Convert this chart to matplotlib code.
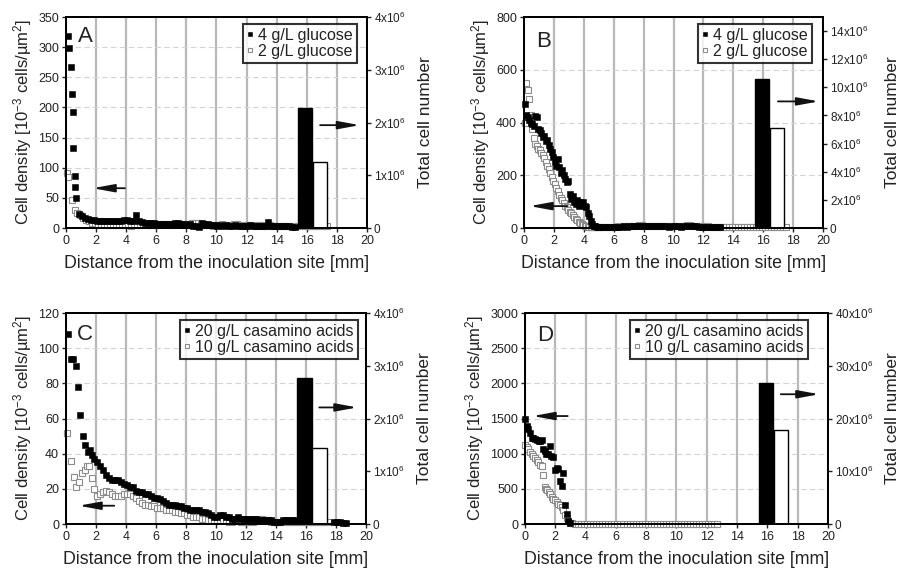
import numpy as np
import matplotlib
matplotlib.use("Agg")
import matplotlib.pyplot as plt
from matplotlib.ticker import FixedLocator

plt.rcParams["font.family"] = ["Liberation Sans", "DejaVu Sans"]
plt.rcParams["mathtext.fontset"] = "custom"
plt.rcParams["mathtext.rm"] = "Liberation Sans"
plt.rcParams["mathtext.it"] = "Liberation Sans:italic"

# ---------------- panel A (glucose, sample 1) ----------------
a_black_head_x = [0.15, 0.21, 0.34, 0.38, 0.45, 0.49, 0.58, 0.62, 0.68]
a_black_head_y = [319, 299, 267, 223, 193, 133, 87, 68, 49]
a_black_tail_y = [24, 20, 17, 15, 14, 13, 12, 12, 11, 12, 11, 12, 12, 11, 12, 13, 13, 12, 12, 22,
                  11, 10, 9, 9, 8, 8, 7, 7, 7, 6, 7, 6, 8, 8, 7, 6, 5, 6, 4, 3,
                  2, 8, 7, 6, 5, 5, 4, 5, 4, 5, 4, 4, 5, 4, 4, 3, 4, 5, 4, 4,
                  3, 4, 4, 10, 4, 3, 3, 4, 3, 3, 3, 2, 2]
a_white_head_x = [0.05, 0.15, 0.40, 0.60]
a_white_head_y = [92, 85, 47, 30]
a_white_tail_y = [25, 21, 17, 14, 11, 9, 8, 7, 6, 6, 5, 5, 5, 5, 5, 5, 5, 5, 4, 5,
                  5, 5, 6, 5, 5, 6, 5, 5, 6, 6, 6, 5, 6, 6, 6, 7, 6, 7, 8, 9,
                  8, 6, 5, 5, 5, 4, 5, 5, 6, 5, 5, 5, 6, 6, 5, 5, 4, 5, 5, 4,
                  5, 5, 4, 4, 5, 4, 4, 3, 4, 4, 3, 4, 3, 3, 3, 3, 3, 3, 3, 3,
                  3, 3, 3, 3]
a_bars = [2.27e6, 1.25e6]

# ---------------- panel B (glucose, sample 2) ----------------
b_black_head_y = [470, 430, 420, 410, 400, 395, 388, 425, 420, 375,
                  370, 360, 345, 350, 330, 335, 315, 300, 290, 270,
                  250, 235, 260, 230, 210, 220, 200, 185, 175, 180,
                  130, 110, 120, 100, 90, 105, 85, 100, 95, 100,
                  85, 80, 55, 45, 25, 15, 8, 6, 5, 4]
b_black_tail_y = [4, 3, 3, 4, 5, 4, 4, 5, 6, 5, 6, 7, 8, 7, 6, 7, 8, 9, 8, 7,
                  6, 7, 6, 5, 6, 7, 6, 5, 6, 7, 8, 7, 6, 5, 4, 5, 4, 3, 3, 4, 3]
b_white_head_y = [400, 548, 525, 490, 430, 375, 340, 320, 310, 300,
                  295, 285, 275, 265, 250, 235, 225, 210, 195, 180,
                  165, 150, 140, 125, 115, 105, 95, 85, 78, 70,
                  62, 55, 48, 42, 36, 30, 24, 18, 14, 10,
                  8, 6, 5, 4, 4, 3, 3, 3, 3, 3]
b_white_tail_y = [3, 3, 4, 4, 5, 5, 6, 6, 7, 7, 8, 8, 9, 10, 10, 9, 9, 8, 8, 7,
                  7, 6, 6, 7, 7, 8, 8, 9, 9, 10, 10, 9, 8, 8, 7, 6, 6, 5, 5, 4,
                  4, 4, 5, 5, 4, 4, 3, 3, 3, 3, 3, 3, 2, 2, 2, 2, 2, 2, 2, 2,
                  2, 2, 2]
b_bars = [10.6e6, 7.1e6]

# ---------------- panel C (casamino acids, sample 1) ----------------
c_black_head_x = [0.15, 0.32, 0.47, 0.64, 0.81, 0.94, 1.13, 1.26, 1.47, 1.58, 1.75]
c_black_head_y = [108, 94, 94, 90, 78, 62, 50, 45, 41, 42, 39]
c_black_tail_y = [37, 35, 33, 31, 28, 26, 25, 25, 25, 24,
                  23, 22, 21, 21, 19, 18, 18, 17, 17, 16,
                  15, 15, 14, 13, 12, 11, 11, 11, 10, 10,
                  9, 9, 8, 8, 8, 8, 7, 7, 6, 5,
                  4, 4, 5, 5, 4, 4, 3, 3, 4, 3,
                  3, 3, 3, 3, 3, 2, 2, 2, 2, 2,
                  1, 1, 1, 2, 2, 2, 2, 2]
c_black_far_x = [17.9, 18.1, 18.3, 18.5, 18.7]
c_black_far_y = [1, 1, 1, 0.5, 0.5]
c_white_head_x = [0.04, 0.32, 0.51, 0.68, 0.85, 1.07, 1.26, 1.40, 1.54, 1.71, 1.86]
c_white_head_y = [52, 36, 27, 21, 24, 29, 31, 33, 33, 26, 20]
c_white_tail_y = [16, 17, 18, 19, 18, 17, 16, 16, 16, 17, 17, 17, 16, 15, 13, 12, 11, 11, 10, 10,
                  9, 9, 9, 8, 8, 8, 7, 7, 6, 6, 5, 5, 4, 4, 4, 3, 3, 2, 2, 2,
                  2, 2, 2, 2, 1, 1, 2, 2, 1, 1, 1, 1, 1, 2, 3, 3, 2, 2, 1, 1,
                  1, 1, 1, 1, 1, 1, 1, 1, 1, 1, 1, 1, 1, 1, 1, 1, 1, 1]
c_bars = [2.76e6, 1.44e6]

# ---------------- panel D (casamino acids, sample 2) ----------------
d_black_x = [0.0, 0.1, 0.15, 0.2, 0.32, 0.43, 0.55, 0.65, 0.8, 0.9, 1.0, 1.1, 1.2, 1.32, 1.4,
             1.54, 1.65, 1.72, 1.83, 1.98, 2.09, 2.2, 2.3, 2.42, 2.53, 2.64, 2.75, 2.86, 2.97]
d_black_y = [1500, 1395, 1370, 1347, 1290, 1230, 1220, 1205, 1190, 1185, 1175, 1190, 1060, 1040, 1000,
             990, 1105, 960, 950, 775, 790, 780, 610, 535, 725, 275, 140, 40, 10]
d_white_head_x = [0.0, 0.1, 0.2, 0.33, 0.45, 0.55, 0.66, 0.77, 0.88, 1.0, 1.1, 1.2, 1.32, 1.4, 1.47,
                  1.56, 1.65, 1.76, 1.87, 1.98, 2.09, 2.2, 2.3, 2.42, 2.53, 2.64, 2.75, 2.86, 2.97]
d_white_head_y = [1130, 1090, 1070, 1030, 1000, 960, 940, 915, 880, 845, 820, 700, 530, 500, 480,
                  450, 420, 390, 360, 340, 320, 290, 270, 240, 200, 130, 80, 40, 15]
d_white_tail_y = [8, 5, 4, 3, 3, 2, 2, 3, 2, 2, 2, 3, 2, 2, 2, 2, 3, 2, 2, 2,
                  2, 2, 3, 2, 2, 2, 2, 2, 3, 2, 2, 2, 2, 2, 2, 3, 2, 2, 2, 2,
                  2, 2, 2, 2, 2, 2, 2, 2, 2]
d_bars = [26.8e6, 17.8e6]

bar_x = [15.9, 16.9]
TAIL_STEP = 0.2
INK = "#222222"
ARROW = "-|>,head_length=1.3,head_width=0.24"

panels = [
    dict(letter="A", pos=[0.0734, 0.6007, 0.3348, 0.3695],
         ylim=350, yticks=[0, 50, 100, 150, 200, 250, 300, 350],
         r_lim=4e6, r_ticks=[0, 1e6, 2e6, 3e6, 4e6], r_lab=["0", "1x10$^6$", "2x10$^6$", "3x10$^6$", "4x10$^6$"],
         black=(a_black_head_x, a_black_head_y, 0.85, a_black_tail_y),
         white=(a_white_head_x, a_white_head_y, 0.75, a_white_tail_y),
         extra=None, bars=a_bars,
         labels=["4 g/L glucose", "2 g/L glucose"], leg=(0.967, 0.967),
         larrow=((1.6, 66), (4.1, 66)), rarrow=((19.7, 1.95e6), (16.7, 1.95e6)),
         letter_xy=(0.8, 318), rlab_x=1.168),
    dict(letter="B", pos=[0.5829, 0.6007, 0.3326, 0.3695],
         ylim=800, yticks=[0, 200, 400, 600, 800],
         r_lim=15e6, r_ticks=[0, 2e6, 4e6, 6e6, 8e6, 10e6, 12e6, 14e6],
         r_lab=["0", "2x10$^6$", "4x10$^6$", "6x10$^6$", "8x10$^6$", "10x10$^6$", "12x10$^6$", "14x10$^6$"],
         black=(list(np.round(0.05 + 0.1 * np.arange(len(b_black_head_y)), 2)), b_black_head_y, 5.1, b_black_tail_y),
         white=(list(np.round(0.05 + 0.1 * np.arange(len(b_white_head_y)), 2)), b_white_head_y, 5.1, b_white_tail_y),
         extra=None, bars=b_bars,
         labels=["4 g/L glucose", "2 g/L glucose"], leg=(0.963, 0.967),
         larrow=((0.2, 83), (3.1, 83)), rarrow=((19.9, 9.0e6), (16.8, 9.0e6)),
         letter_xy=(0.8, 708), rlab_x=1.207),
    dict(letter="C", pos=[0.0734, 0.0823, 0.3337, 0.3695],
         ylim=120, yticks=[0, 20, 40, 60, 80, 100, 120],
         r_lim=4e6, r_ticks=[0, 1e6, 2e6, 3e6, 4e6], r_lab=["0", "1x10$^6$", "2x10$^6$", "3x10$^6$", "4x10$^6$"],
         black=(c_black_head_x, c_black_head_y, 1.9, c_black_tail_y),
         white=(c_white_head_x, c_white_head_y, 2.05, c_white_tail_y),
         extra=(c_black_far_x, c_black_far_y), bars=c_bars,
         labels=["20 g/L casamino acids", "10 g/L casamino acids"], leg=(0.973, 0.967),
         larrow=((0.67, 10.4), (3.4, 10.4)), rarrow=((19.6, 2.21e6), (16.7, 2.21e6)),
         letter_xy=(0.75, 108), rlab_x=1.17),
    dict(letter="D", pos=[0.584, 0.0823, 0.337, 0.3695],
         ylim=3000, yticks=[0, 500, 1000, 1500, 2000, 2500, 3000],
         r_lim=40e6, r_ticks=[0, 10e6, 20e6, 30e6, 40e6],
         r_lab=["0", "10x10$^6$", "20x10$^6$", "30x10$^6$", "40x10$^6$"],
         black=(d_black_x, d_black_y, None, []),
         white=(d_white_head_x, d_white_head_y, 3.1, d_white_tail_y),
         extra=None, bars=d_bars,
         labels=["20 g/L casamino acids", "10 g/L casamino acids"], leg=(0.934, 0.967),
         larrow=((0.33, 1535), (3.0, 1535)), rarrow=((19.6, 24.6e6), (16.7, 24.6e6)),
         letter_xy=(0.8, 2680), rlab_x=1.188),
]


def series_xy(head_x, head_y, tail_start, tail_y):
    x = list(head_x)
    y = list(head_y)
    if tail_start is not None:
        x += list(tail_start + TAIL_STEP * np.arange(len(tail_y)))
        y += list(tail_y)
    return np.array(x), np.array(y)


fig = plt.figure(figsize=(8.99, 5.71), dpi=100)

for p in panels:
    ax = fig.add_axes(p["pos"])
    ax.set_xlim(0, 20)
    ax.set_ylim(0, p["ylim"])
    ax.set_xticks(range(0, 21, 2))
    ax.set_yticks(p["yticks"])
    ax.xaxis.grid(True, color="#b8b8b8", lw=1.6)
    ax.yaxis.grid(True, color="#d4d4d4", lw=0.8, ls=(0, (5, 3)))
    ax.set_axisbelow(True)

    wx, wy = series_xy(*p["white"])
    bx, by = series_xy(*p["black"])
    ax.plot(wx, wy, "s", ms=3.8, mfc="white", mec="#8c8c8c", mew=0.8,
            label=p["labels"][1], zorder=3, clip_on=False)
    ax.plot(bx, by, "s", ms=3.8, mfc="black", mec="black", mew=0.4,
            label=p["labels"][0], zorder=4, clip_on=False)
    if p["extra"] is not None:
        ax.plot(p["extra"][0], p["extra"][1], "s", ms=3.8, mfc="black", mec="black",
                mew=0.4, zorder=4, clip_on=False)

    ax.tick_params(direction="out", length=3, width=1, labelsize=9, pad=2, colors=INK)
    for s in ax.spines.values():
        s.set_linewidth(1.4)
    ax.set_xlabel("Distance from the inoculation site [mm]", fontsize=12.8, color=INK, labelpad=6)
    ax.set_ylabel("Cell density [10$^{-3}$ cells/\u00b5m$^2$]", fontsize=12, color=INK, labelpad=3)

    ax.text(p["letter_xy"][0], p["letter_xy"][1], p["letter"], fontsize=16, va="center",
            ha="left", color=INK, zorder=6)

    ax.annotate("", xy=p["larrow"][0], xytext=p["larrow"][1],
                arrowprops=dict(arrowstyle=ARROW, color="#111111", lw=1.3))

    h, l = ax.get_legend_handles_labels()
    leg = ax.legend(h[::-1], l[::-1], loc="upper right", bbox_to_anchor=p["leg"],
                    fontsize=11.5, frameon=True, fancybox=False, edgecolor="black",
                    handlelength=0.4, handletextpad=0.3, borderpad=0.25, labelspacing=0.05,
                    borderaxespad=0, markerscale=0.9)
    leg.get_frame().set_linewidth(1.5)
    leg.set_zorder(7)
    for t in leg.get_texts():
        t.set_color(INK)

    ax2 = ax.twinx()
    ax2.set_ylim(0, p["r_lim"])
    ax2.yaxis.set_major_locator(FixedLocator(p["r_ticks"]))
    ax2.set_yticklabels(p["r_lab"])
    ax2.bar(bar_x, p["bars"], width=0.95, color=["black", "white"], edgecolor="black", lw=1.0, zorder=2)
    ax2.tick_params(direction="out", length=3, width=1, labelsize=8.5, pad=2, colors=INK)
    ax2.set_ylabel("Total cell number", fontsize=12.5, color=INK)
    ax2.yaxis.set_label_coords(p["rlab_x"], 0.5)
    for s in ax2.spines.values():
        s.set_linewidth(1.4)
    ax2.annotate("", xy=p["rarrow"][0], xytext=p["rarrow"][1],
                 arrowprops=dict(arrowstyle=ARROW, color="#111111", lw=1.3))
    ax2.set_zorder(ax.get_zorder() + 1)

fig.savefig("out.png", dpi=100)
